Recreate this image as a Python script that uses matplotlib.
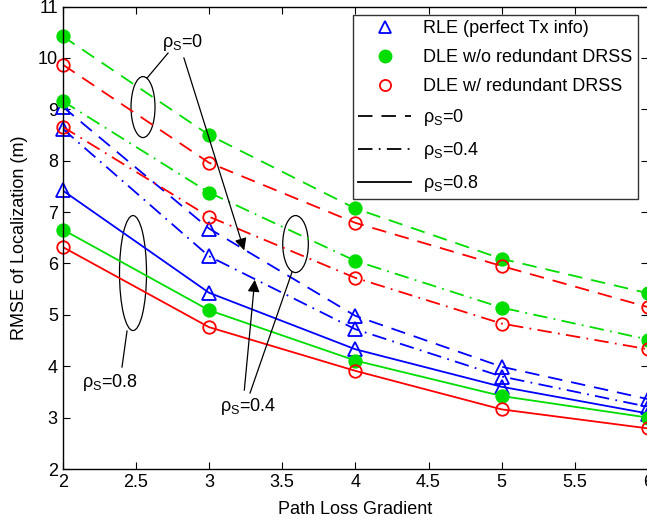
import matplotlib
matplotlib.use("Agg")
import matplotlib.pyplot as plt
from matplotlib.lines import Line2D
from matplotlib.patches import Ellipse

plt.rcParams['font.family'] = ['Liberation Sans', 'DejaVu Sans']
plt.rcParams['mathtext.fontset'] = 'custom'
plt.rcParams['mathtext.rm'] = 'Liberation Sans'
plt.rcParams['mathtext.it'] = 'Liberation Sans:italic'

gradient = [2, 3, 4, 5, 6]

rle_rho0 = [9.05, 6.68, 4.98, 3.99, 3.36]
rle_rho04 = [8.62, 6.14, 4.72, 3.80, 3.21]
rle_rho08 = [7.42, 5.43, 4.33, 3.60, 3.08]

dle_wo_rho0 = [10.42, 8.50, 7.07, 6.09, 5.42]
dle_wo_rho04 = [9.16, 7.38, 6.05, 5.14, 4.52]
dle_wo_rho08 = [6.66, 5.09, 4.11, 3.42, 3.00]

dle_w_rho0 = [9.87, 7.96, 6.79, 5.95, 5.15]
dle_w_rho04 = [8.66, 6.91, 5.72, 4.83, 4.33]
dle_w_rho08 = [6.32, 4.76, 3.91, 3.16, 2.79]

W, H = 647, 519
FS = 13
fig = plt.figure(figsize=(W / 100, H / 100), dpi=100)
ax = fig.add_axes([62.7 / W, 50 / H, (648 - 62.7) / W, (469 - 6.5) / H])

dash = (0, (8, 5))
dashdot = (0, (8, 3.5, 1, 3.5))
styles = [dash, dashdot, '-']

series = [
    ('#0000ff', '^', 'none', [rle_rho0, rle_rho04, rle_rho08], 10),
    ('#00dd00', 'o', '#00dd00', [dle_wo_rho0, dle_wo_rho04, dle_wo_rho08], 9),
    ('#ff0000', 'o', 'none', [dle_w_rho0, dle_w_rho04, dle_w_rho08], 9),
]
for color, mk, fc, data, ms in series:
    for vals, ls in zip(data, styles):
        ax.plot(gradient, vals, color=color, linestyle=ls, lw=1.3)
        ax.plot(gradient, vals, linestyle='none', marker=mk, markersize=ms,
                markerfacecolor=fc, markeredgecolor=color, markeredgewidth=1.3,
                clip_on=False)

ax.set_xlim(2, 6)
ax.set_ylim(2, 11)
ax.set_xticks([2, 2.5, 3, 3.5, 4, 4.5, 5, 5.5, 6])
ax.set_xticklabels(['2', '2.5', '3', '3.5', '4', '4.5', '5', '5.5', '6'])
ax.set_yticks(range(2, 12))
ax.tick_params(direction='in', top=True, right=True, labelsize=FS, length=5, width=0.8)
for s in ax.spines.values():
    s.set_linewidth(1.0)
ax.set_xlabel('Path Loss Gradient', fontsize=FS, labelpad=7)
ax.set_ylabel('RMSE of Localization (m)', fontsize=FS, labelpad=7)

def px2d(px, py):
    return (2 + (px - 62.7) / 146.3, 2 + (469 - py) / 51.4)

def ell(cx, cy, w, h):
    c = px2d(cx, cy)
    e = Ellipse(c, w / 146.3, h / 51.4, fill=False, edgecolor='black', lw=0.9)
    ax.add_patch(e)

ell(143, 107, 24, 61)
ell(133, 273, 27, 115)
ell(295.5, 244, 25.6, 57)

kw = dict(fontsize=FS, ha='center', va='center')
ax.text(*px2d(183, 42), 'ρ$_{\\rm S}$=0', **kw)
ax.text(*px2d(110, 382), 'ρ$_{\\rm S}$=0.8', **kw)
ax.text(*px2d(248, 406), 'ρ$_{\\rm S}$=0.4', **kw)

ax.plot(*zip(px2d(168, 53), px2d(147, 78)), color='black', lw=0.9)
ax.annotate('', xy=px2d(245, 253), xytext=px2d(183, 55),
            arrowprops=dict(arrowstyle='-|>', color='black', lw=0.9, mutation_scale=18))
ax.annotate('', xy=px2d(255, 277), xytext=px2d(244, 393),
            arrowprops=dict(arrowstyle='-|>', color='black', lw=0.9, mutation_scale=18))
ax.plot(*zip(px2d(250, 393), px2d(292, 272)), color='black', lw=0.9)
ax.plot(*zip(px2d(127, 331), px2d(122, 367)), color='black', lw=0.9)

handles = [
    Line2D([], [], linestyle='none', marker='^', markersize=9, markerfacecolor='none',
           markeredgecolor='#0000ff', markeredgewidth=1.3),
    Line2D([], [], linestyle='none', marker='o', markersize=9, markerfacecolor='#00dd00',
           markeredgecolor='#00dd00'),
    Line2D([], [], linestyle='none', marker='o', markersize=8, markerfacecolor='none',
           markeredgecolor='#ff0000', markeredgewidth=1.3),
    Line2D([], [], color='black', linestyle=dash, lw=1.3),
    Line2D([], [], color='black', linestyle=dashdot, lw=1.3),
    Line2D([], [], color='black', linestyle='-', lw=1.3),
]
labels = ['RLE (perfect Tx info)', 'DLE w/o redundant DRSS', 'DLE w/ redundant DRSS',
          'ρ$_{\\rm S}$=0', 'ρ$_{\\rm S}$=0.4', 'ρ$_{\\rm S}$=0.8']
leg = ax.legend(handles, labels, loc='upper right', bbox_to_anchor=(638 / W, 1 - 15 / H),
                bbox_transform=fig.transFigure, fontsize=FS, frameon=True, fancybox=False,
                edgecolor='black', handlelength=2.9, labelspacing=0.66, borderpad=0.3,
                handletextpad=0.7, borderaxespad=0)
leg.get_frame().set_linewidth(1.0)

fig.savefig('out.png', dpi=100)
